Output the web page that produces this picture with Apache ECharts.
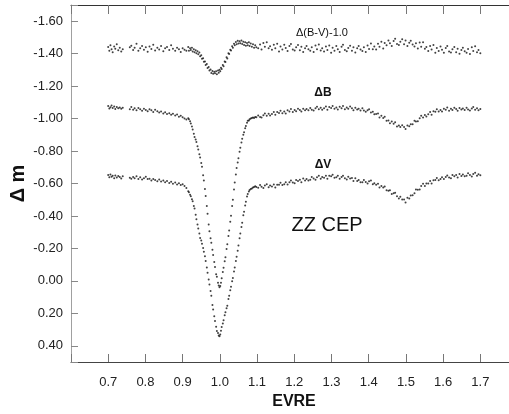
<!DOCTYPE html>
<html>
<head>
<meta charset="utf-8">
<title>ZZ CEP</title>
<script src="https://cdn.jsdelivr.net/npm/echarts@6/dist/echarts.min.js"></script>
<style>
  html, body { margin: 0; padding: 0; background: #fff; }
  #chart { width: 509px; height: 414px; }
</style>
</head>
<body>
<div id="chart"></div>
<script>
// orbital phase of each observation (shared by the three light curves)
const phase = [
  0.700,0.703,0.706,0.709,0.712,0.716,0.719,0.723,0.727,0.731,
  0.735,0.739,0.758,0.762,0.767,0.771,0.776,0.781,0.786,0.791,
  0.796,0.801,0.806,0.811,0.816,0.821,0.826,0.832,0.837,0.842,
  0.848,0.853,0.858,0.864,0.869,0.874,0.880,0.885,0.890,0.895,
  0.900,0.905,0.910,
  0.915,0.917,0.920,0.922,0.925,0.927,0.930,0.932,0.935,0.937,
  0.940,0.942,0.945,0.947,0.950,0.952,0.955,0.957,0.960,0.962,
  0.965,0.967,0.970,0.972,0.975,0.977,0.980,0.982,0.985,0.987,
  0.990,0.992,0.995,0.997,0.999,1.001,1.003,1.005,1.008,1.010,
  1.013,1.015,1.018,1.020,1.023,1.025,1.028,1.030,1.033,1.035,
  1.038,1.040,1.043,1.045,1.048,1.050,1.053,1.055,1.058,1.060,
  1.063,1.065,1.068,1.070,1.073,1.075,1.078,1.080,1.083,1.086,
  1.089,1.092,1.095,1.098,
  1.103,1.108,1.112,1.117,1.121,1.126,1.131,1.135,1.140,1.145,
  1.149,1.154,1.159,1.163,1.168,1.173,1.177,1.182,1.187,1.191,
  1.196,1.201,1.205,1.210,1.215,1.219,1.224,1.229,1.233,1.238,
  1.243,1.247,1.252,1.257,1.261,1.266,1.271,1.275,1.280,1.285,
  1.289,1.294,1.299,1.303,1.308,1.313,1.317,1.322,1.327,1.331,
  1.336,1.341,1.345,1.350,1.355,1.359,1.364,1.369,1.373,1.378,
  1.383,1.387,1.392,1.397,1.401,1.406,1.411,1.415,1.420,1.425,
  1.429,1.434,1.439,1.443,1.448,1.453,1.457,1.462,1.467,1.471,
  1.476,1.481,1.485,1.490,1.495,1.499,1.504,1.509,1.513,1.518,
  1.523,1.527,1.532,1.537,1.541,1.546,1.551,1.555,1.560,1.565,
  1.569,1.574,1.579,1.583,1.588,1.593,1.597,1.602,1.607,1.611,
  1.616,1.621,1.625,1.630,1.635,1.639,1.644,1.649,1.653,1.658,
  1.663,1.667,1.672,1.677,1.681,1.686,1.691,1.695,1.700
];

// delta V
const dV = [
  -0.652,-0.638,-0.655,-0.641,-0.648,-0.633,-0.650,-0.637,-0.646,-0.640,
  -0.631,-0.644,-0.636,-0.629,-0.640,-0.632,-0.645,-0.628,-0.638,-0.624,
  -0.633,-0.641,-0.627,-0.630,-0.619,-0.628,-0.622,-0.614,-0.625,-0.612,
  -0.618,-0.607,-0.615,-0.603,-0.611,-0.598,-0.606,-0.594,-0.601,-0.590,
  -0.596,-0.585,-0.572,
  -0.553,-0.546,-0.530,-0.522,-0.503,-0.490,-0.462,-0.446,-0.408,-0.380,
  -0.348,-0.322,-0.292,-0.264,-0.248,-0.228,-0.203,-0.180,-0.152,-0.122,
  -0.083,-0.050,-0.008,0.022,0.062,0.091,0.148,0.176,0.218,0.248,
  0.283,0.309,0.322,0.336,0.341,0.330,0.308,0.284,0.262,0.242,
  0.212,0.193,0.168,0.153,0.112,0.092,0.058,0.036,0.002,-0.017,
  -0.058,-0.083,-0.122,-0.148,-0.186,-0.218,-0.262,-0.292,-0.332,-0.358,
  -0.405,-0.426,-0.465,-0.488,-0.520,-0.536,-0.551,-0.560,-0.566,-0.569,
  -0.576,-0.578,-0.583,-0.579,
  -0.574,-0.590,-0.580,-0.572,-0.587,-0.596,-0.577,-0.587,-0.581,-0.594,
  -0.575,-0.593,-0.592,-0.604,-0.590,-0.596,-0.607,-0.594,-0.608,-0.619,
  -0.606,-0.602,-0.622,-0.615,-0.623,-0.608,-0.631,-0.618,-0.628,-0.619,
  -0.623,-0.640,-0.631,-0.623,-0.639,-0.648,-0.630,-0.640,-0.635,-0.648,
  -0.629,-0.647,-0.645,-0.654,-0.636,-0.639,-0.647,-0.630,-0.640,-0.648,
  -0.632,-0.624,-0.641,-0.631,-0.634,-0.615,-0.633,-0.615,-0.622,-0.608,
  -0.608,-0.622,-0.610,-0.600,-0.614,-0.618,-0.595,-0.602,-0.593,-0.599,
  -0.575,-0.585,-0.576,-0.581,-0.558,-0.555,-0.558,-0.536,-0.540,-0.543,
  -0.521,-0.507,-0.518,-0.501,-0.501,-0.483,-0.512,-0.507,-0.526,-0.527,
  -0.540,-0.563,-0.562,-0.563,-0.585,-0.599,-0.585,-0.600,-0.600,-0.616,
  -0.600,-0.620,-0.621,-0.634,-0.620,-0.627,-0.639,-0.627,-0.640,-0.650,
  -0.637,-0.633,-0.652,-0.645,-0.652,-0.637,-0.659,-0.646,-0.655,-0.645,
  -0.647,-0.663,-0.652,-0.643,-0.659,-0.667,-0.647,-0.657,-0.651
];

// delta B
const dB = [
  -1.078,-1.062,-1.070,-1.081,-1.066,-1.074,-1.059,-1.072,-1.064,-1.069,
  -1.060,-1.067,-1.058,-1.071,-1.055,-1.063,-1.052,-1.066,-1.057,-1.049,
  -1.060,-1.053,-1.046,-1.058,-1.051,-1.040,-1.054,-1.045,-1.038,-1.043,
  -1.031,-1.039,-1.028,-1.033,-1.024,-1.030,-1.019,-1.025,-1.012,-1.017,
  -1.008,-1.001,-0.994,
  -1.002,-0.996,-0.984,-0.970,-0.951,-0.933,-0.906,-0.886,-0.871,-0.855,
  -0.829,-0.810,-0.781,-0.760,-0.726,-0.703,-0.651,-0.618,-0.566,-0.523,
  -0.461,-0.413,-0.347,-0.305,-0.262,-0.235,-0.191,-0.160,-0.116,-0.086,
  -0.041,-0.026,0.011,0.028,0.040,0.031,0.012,-0.016,-0.055,-0.081,
  -0.121,-0.146,-0.196,-0.226,-0.276,-0.311,-0.364,-0.401,-0.461,-0.500,
  -0.563,-0.606,-0.656,-0.695,-0.730,-0.756,-0.795,-0.821,-0.853,-0.876,
  -0.900,-0.916,-0.940,-0.955,-0.975,-0.986,-0.988,-0.996,-1.000,-1.003,
  -1.006,-1.004,-1.010,-1.008,
  -1.019,-1.010,-1.006,-1.021,-1.032,-1.017,-1.030,-1.019,-1.029,-1.041,
  -1.023,-1.041,-1.035,-1.049,-1.033,-1.043,-1.032,-1.051,-1.044,-1.059,
  -1.041,-1.053,-1.046,-1.061,-1.053,-1.044,-1.061,-1.052,-1.059,-1.051,
  -1.066,-1.055,-1.050,-1.063,-1.073,-1.057,-1.067,-1.055,-1.064,-1.074,
  -1.054,-1.072,-1.065,-1.078,-1.061,-1.068,-1.056,-1.073,-1.064,-1.078,
  -1.058,-1.068,-1.060,-1.074,-1.064,-1.052,-1.067,-1.056,-1.061,-1.050,
  -1.063,-1.050,-1.042,-1.051,-1.058,-1.037,-1.042,-1.026,-1.029,-1.032,
  -1.007,-1.018,-1.003,-1.011,-0.987,-0.988,-0.971,-0.982,-0.968,-0.977,
  -0.952,-0.958,-0.948,-0.959,-0.948,-0.936,-0.957,-0.953,-0.965,-0.965,
  -0.987,-0.982,-0.983,-1.002,-1.017,-1.006,-1.022,-1.013,-1.027,-1.041,
  -1.024,-1.046,-1.042,-1.057,-1.043,-1.053,-1.043,-1.061,-1.054,-1.068,
  -1.049,-1.060,-1.053,-1.067,-1.059,-1.049,-1.066,-1.056,-1.062,-1.053,
  -1.067,-1.056,-1.050,-1.062,-1.071,-1.054,-1.064,-1.051,-1.059
];

// delta (B-V) shifted by -1.0
const dBV = [
  -1.441,-1.418,-1.452,-1.427,-1.409,-1.445,-1.431,-1.458,-1.421,-1.437,
  -1.413,-1.428,-1.440,-1.449,-1.422,-1.436,-1.461,-1.418,-1.433,-1.447,
  -1.425,-1.439,-1.412,-1.444,-1.429,-1.455,-1.420,-1.437,-1.426,-1.448,
  -1.415,-1.434,-1.441,-1.423,-1.452,-1.430,-1.418,-1.436,-1.427,-1.411,
  -1.433,-1.424,-1.418,
  -1.441,-1.418,-1.433,-1.422,-1.437,-1.414,-1.428,-1.409,-1.421,-1.402,
  -1.415,-1.396,-1.407,-1.384,-1.391,-1.369,-1.372,-1.351,-1.352,-1.331,
  -1.336,-1.312,-1.318,-1.297,-1.302,-1.281,-1.294,-1.276,-1.289,-1.279,
  -1.292,-1.274,-1.296,-1.283,-1.301,-1.292,-1.314,-1.306,-1.331,-1.323,
  -1.352,-1.348,-1.378,-1.371,-1.402,-1.398,-1.425,-1.419,-1.446,-1.437,
  -1.461,-1.452,-1.472,-1.458,-1.479,-1.462,-1.476,-1.465,-1.481,-1.459,
  -1.473,-1.454,-1.470,-1.449,-1.466,-1.452,-1.471,-1.447,-1.463,-1.442,
  -1.458,-1.436,-1.452,-1.440,
  -1.434,-1.456,-1.426,-1.466,-1.442,-1.471,-1.433,-1.446,-1.424,-1.455,
  -1.433,-1.461,-1.414,-1.445,-1.426,-1.455,-1.435,-1.417,-1.447,-1.460,
  -1.426,-1.419,-1.439,-1.453,-1.421,-1.443,-1.411,-1.434,-1.448,-1.427,
  -1.418,-1.440,-1.410,-1.451,-1.428,-1.457,-1.420,-1.434,-1.413,-1.444,
  -1.423,-1.451,-1.405,-1.436,-1.418,-1.447,-1.428,-1.410,-1.442,-1.455,
  -1.422,-1.415,-1.435,-1.449,-1.418,-1.440,-1.408,-1.433,-1.447,-1.426,
  -1.417,-1.440,-1.410,-1.451,-1.429,-1.462,-1.428,-1.444,-1.426,-1.461,
  -1.442,-1.474,-1.432,-1.466,-1.452,-1.482,-1.464,-1.447,-1.478,-1.492,
  -1.460,-1.453,-1.474,-1.489,-1.458,-1.481,-1.447,-1.468,-1.479,-1.456,
  -1.444,-1.465,-1.432,-1.469,-1.443,-1.470,-1.430,-1.441,-1.417,-1.448,
  -1.426,-1.453,-1.405,-1.435,-1.416,-1.444,-1.424,-1.405,-1.435,-1.448,
  -1.414,-1.407,-1.427,-1.441,-1.409,-1.431,-1.399,-1.423,-1.436,-1.415,
  -1.406,-1.429,-1.398,-1.439,-1.416,-1.446,-1.409,-1.423,-1.402
];

const xTicks = [0.7, 0.8, 0.9, 1.0, 1.1, 1.2, 1.3, 1.4, 1.5, 1.6, 1.7];
const yTicks = [-1.6, -1.4, -1.2, -1.0, -0.8, -0.6, -0.4, -0.2, 0.0, 0.2, 0.4];

const font = '"Liberation Sans", Arial, sans-serif';
const isTick = (list, v) => list.some(t => Math.abs(t - v) < 1e-6);
const pairs = (ys) => phase.map((p, i) => [p, ys[i]]);

const chart = echarts.init(document.getElementById('chart'));

const dotSeries = (name, ys) => ({
  name: name,
  type: 'scatter',
  data: pairs(ys),
  symbol: 'circle',
  symbolSize: 2,
  itemStyle: { color: '#111' },
  silent: true
});

chart.setOption({
  animation: false,
  backgroundColor: '#fff',
  grid: { left: 71, top: 5, right: 0, bottom: 52, outerBoundsMode: 'none' },
  xAxis: [
    {
      type: 'value',
      min: 0.6,
      max: 1.777,
      interval: 0.1,
      position: 'bottom',
      axisLine: { onZero: false, lineStyle: { color: '#444', width: 1 } },
      axisTick: { inside: true, length: 8, lineStyle: { color: '#777' } },
      axisLabel: {
        margin: 14, fontSize: 13, color: '#222', fontFamily: font,
        formatter: v => isTick(xTicks, v) ? v.toFixed(1) : ''
      },
      splitLine: { show: false },
      name: 'EVRE',
      nameLocation: 'middle',
      nameGap: 32,
      nameMoveOverlap: false,
      nameTextStyle: { fontSize: 16, fontWeight: 'bold', color: '#111', fontFamily: font, padding: [0, 0, 0, 8] }
    },
    {
      type: 'value',
      min: 0.6,
      max: 1.777,
      interval: 0.1,
      position: 'top',
      axisLine: { onZero: false, lineStyle: { color: '#333', width: 1 } },
      axisTick: { inside: true, length: 9, lineStyle: { color: '#777' } },
      axisLabel: { show: false },
      splitLine: { show: false }
    }
  ],
  yAxis: {
    type: 'value',
    inverse: true,
    min: -1.7,
    max: 0.5,
    splitNumber: 10,
    axisLine: { show: true, onZero: false, lineStyle: { color: '#a0a0a0', width: 1 } },
    axisTick: { show: true, inside: true, length: 7, lineStyle: { color: '#888' } },
    axisLabel: {
      margin: 8, fontSize: 13, color: '#222', fontFamily: font,
      formatter: v => isTick(yTicks, v) ? v.toFixed(2) : ''
    },
    splitLine: { show: false },
    name: 'Δ m',
    nameLocation: 'middle',
    nameGap: 43,
    nameMoveOverlap: false,
    nameTextStyle: { fontSize: 20, fontWeight: 'bold', color: '#111', fontFamily: font }
  },
  graphic: [
    { type: 'text', x: 322, y: 33, style: { text: 'Δ(B-V)-1.0', font: '11px ' + font, fill: '#111', align: 'center', verticalAlign: 'middle' } },
    { type: 'text', x: 323, y: 93, style: { text: 'ΔB', font: 'bold 12px ' + font, fill: '#111', align: 'center', verticalAlign: 'middle' } },
    { type: 'text', x: 323, y: 165, style: { text: 'ΔV', font: 'bold 12px ' + font, fill: '#111', align: 'center', verticalAlign: 'middle' } },
    { type: 'text', x: 327, y: 225, style: { text: 'ZZ CEP', font: '20px ' + font, fill: '#111', align: 'center', verticalAlign: 'middle' } }
  ],
  series: [
    dotSeries('Δ(B-V)-1.0', dBV),
    dotSeries('ΔB', dB),
    dotSeries('ΔV', dV)
  ]
});

window.addEventListener('resize', () => chart.resize());
</script>
</body>
</html>
